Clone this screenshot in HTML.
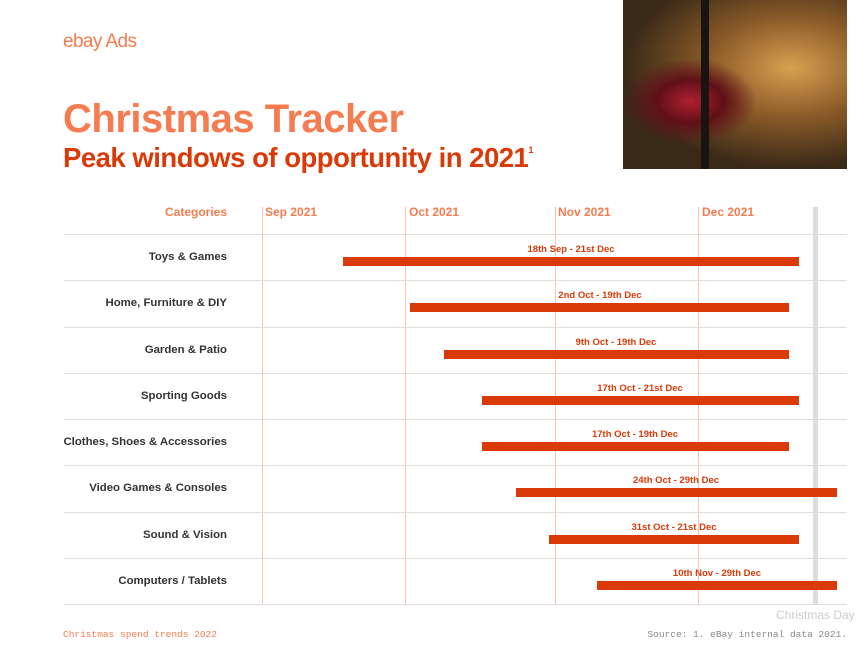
<!DOCTYPE html>
<html><head><meta charset="utf-8"><style>
body{margin:0;width:865px;height:645px;background:#fff;position:relative;overflow:hidden;font-family:"Liberation Sans",sans-serif}
.a{position:absolute}
.cat{position:absolute;right:638px;font-size:11.4px;font-weight:bold;color:#333;white-space:nowrap}
.hl{position:absolute;left:64px;width:783px;height:1px;background:#ddd}
.vl{position:absolute;top:207px;height:397px;width:1px;background:#f8c4b0}
.mo{position:absolute;top:205px;font-size:12px;font-weight:bold;color:#f47c50}
.bar{position:absolute;height:9px;background:#d93a08}
.lb{position:absolute;font-size:9.5px;font-weight:bold;color:#d93a08;white-space:nowrap;transform:translateX(-50%)}
</style></head><body>
<div class="a" style="left:63px;top:31px;font-size:19px;color:#f47c50;letter-spacing:-0.6px">ebay Ads</div>
<div class="a" style="left:63px;top:97px;font-size:40px;font-weight:bold;color:#f47c50;letter-spacing:-0.5px">Christmas Tracker</div>
<div class="a" style="left:63px;top:142px;font-size:27.5px;font-weight:bold;color:#d93a08;letter-spacing:-0.5px">Peak windows of opportunity in 2021<sup style="font-size:9px;vertical-align:14px">1</sup></div>
<div class="a" style="left:623px;top:0;width:224px;height:169px;background:radial-gradient(ellipse at 30% 60%,#b02030 0,#601018 15%,transparent 30%),radial-gradient(ellipse at 75% 40%,#d8a050 0,#8a5a28 35%,#3a2a18 70%),#2a2018"></div>
<div class="a" style="left:701px;top:0;width:8px;height:169px;background:#1a1410"></div>
<div class="a" style="left:165px;top:205px;font-size:12px;font-weight:bold;color:#f47c50">Categories</div>
<div class="mo" style="left:265px">Sep 2021</div>
<div class="mo" style="left:409px">Oct 2021</div>
<div class="mo" style="left:558px">Nov 2021</div>
<div class="mo" style="left:702px">Dec 2021</div>
<div class="vl" style="left:262px"></div><div class="vl" style="left:405px"></div><div class="vl" style="left:555px"></div><div class="vl" style="left:698px"></div>
<div class="a" style="left:813px;top:207px;width:5px;height:397px;background:#ddd"></div>
<div class="hl" style="top:234px"></div><div class="hl" style="top:280px"></div><div class="hl" style="top:327px"></div><div class="hl" style="top:373px"></div><div class="hl" style="top:419px"></div><div class="hl" style="top:465px"></div><div class="hl" style="top:512px"></div><div class="hl" style="top:558px"></div><div class="hl" style="top:604px"></div>
<div class="cat" style="top:251px">Toys &amp; Games</div>
<div class="cat" style="top:297px">Home, Furniture &amp; DIY</div>
<div class="cat" style="top:344px">Garden &amp; Patio</div>
<div class="cat" style="top:390px">Sporting Goods</div>
<div class="cat" style="top:436px">Clothes, Shoes &amp; Accessories</div>
<div class="cat" style="top:482px">Video Games &amp; Consoles</div>
<div class="cat" style="top:529px">Sound &amp; Vision</div>
<div class="cat" style="top:575px">Computers / Tablets</div>
<div class="bar" style="top:257px;left:343px;width:456px"></div><div class="lb" style="top:244px;left:571px">18th Sep - 21st Dec</div>
<div class="bar" style="top:303px;left:410px;width:379px"></div><div class="lb" style="top:290px;left:600px">2nd Oct - 19th Dec</div>
<div class="bar" style="top:350px;left:444px;width:345px"></div><div class="lb" style="top:337px;left:616px">9th Oct - 19th Dec</div>
<div class="bar" style="top:396px;left:482px;width:317px"></div><div class="lb" style="top:383px;left:640px">17th Oct - 21st Dec</div>
<div class="bar" style="top:442px;left:482px;width:307px"></div><div class="lb" style="top:429px;left:635px">17th Oct - 19th Dec</div>
<div class="bar" style="top:488px;left:516px;width:321px"></div><div class="lb" style="top:475px;left:676px">24th Oct - 29th Dec</div>
<div class="bar" style="top:535px;left:549px;width:250px"></div><div class="lb" style="top:522px;left:674px">31st Oct - 21st Dec</div>
<div class="bar" style="top:581px;left:597px;width:240px"></div><div class="lb" style="top:568px;left:717px">10th Nov - 29th Dec</div>
<div class="a" style="left:776px;top:608px;font-size:12px;color:#ccc">Christmas Day</div>
<div class="a" style="left:63px;top:629px;font-family:'Liberation Mono',monospace;font-size:9.5px;color:#f47c50">Christmas spend trends 2022</div>
<div class="a" style="right:18px;top:629px;font-family:'Liberation Mono',monospace;font-size:9.5px;color:#888">Source: 1. eBay internal data 2021.</div>
</body></html>
